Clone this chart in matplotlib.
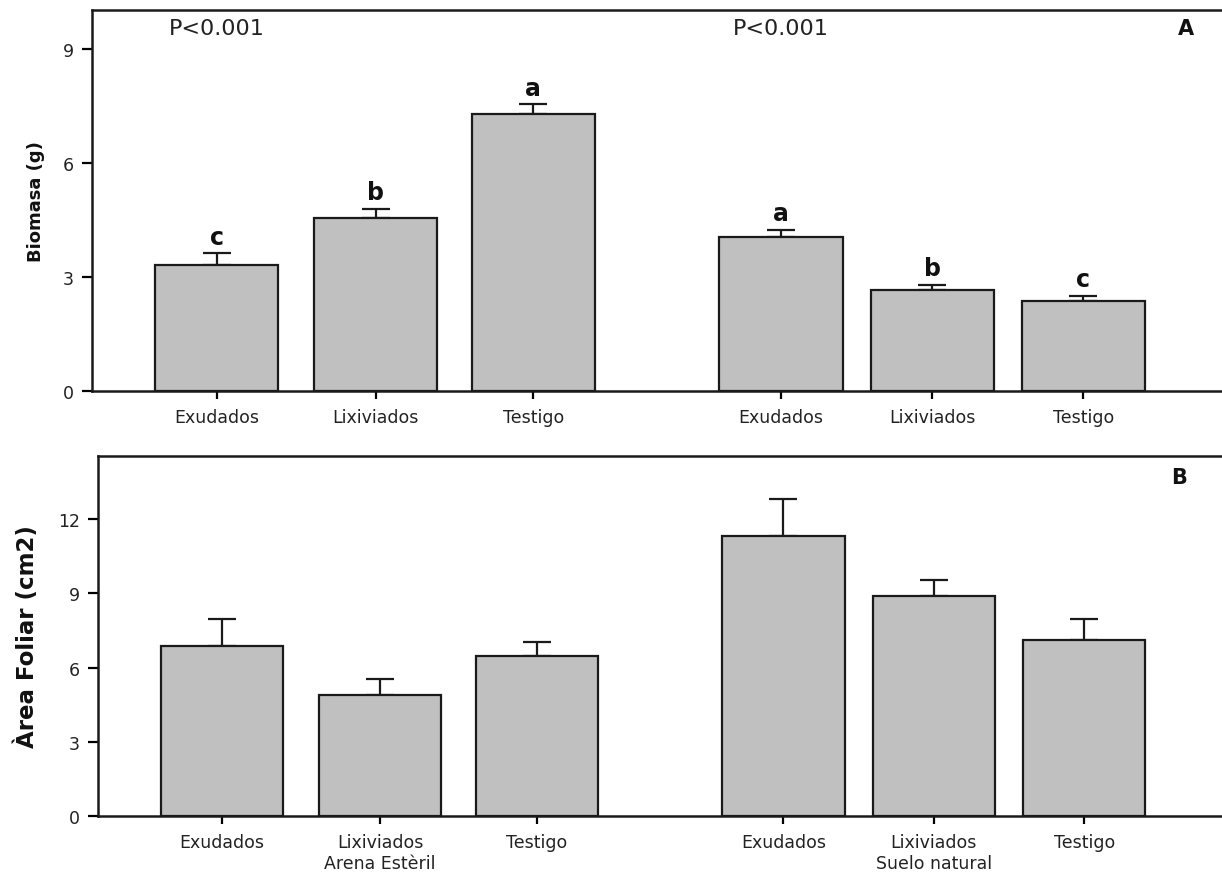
import matplotlib.pyplot as plt
import numpy as np

# Datos
pos = [0, 1.02, 2.03, 3.62, 4.59, 5.56]
labels_a = ["Exudados", "Lixiviados", "Testigo", "Exudados", "Lixiviados", "Testigo"]
labels_b = ["Exudados", "Lixiviados\nArena Estèril", "Testigo",
            "Exudados", "Lixiviados\nSuelo natural", "Testigo"]

biomasa = [3.32, 4.55, 7.29, 4.05, 2.66, 2.37]
biomasa_err = [0.31, 0.24, 0.26, 0.19, 0.13, 0.13]
letras = ["c", "b", "a", "a", "b", "c"]

area = [6.87, 4.89, 6.46, 11.31, 8.89, 7.11]
area_err = [1.09, 0.64, 0.57, 1.50, 0.65, 0.85]

plt.rcParams['font.family'] = 'DejaVu Sans'

fig = plt.figure(figsize=(12.22, 8.78), dpi=100)
ax1 = fig.add_axes([0.0753, 0.5535, 0.93, 0.434])
ax2 = fig.add_axes([0.0802, 0.0695, 0.925, 0.41])

gray = '#c0c0c0'
txt = '#222222'


def panel(ax, vals, errs, ylim, yticks, xlabels):
    ax.bar(pos, vals, width=0.79, color=gray, edgecolor='#1a1a1a', linewidth=1.6, zorder=2)
    ax.errorbar(pos, vals, yerr=[np.zeros(len(errs)), errs], fmt='none',
                ecolor='#1a1a1a', elinewidth=1.6, capsize=10, capthick=1.6, zorder=1)
    ax.set_xlim(-0.8, 6.49)
    ax.set_ylim(*ylim)
    ax.set_yticks(yticks)
    ax.set_xticks(pos)
    ax.set_xticklabels(xlabels, fontsize=12.5, color=txt, linespacing=1.25)
    ax.tick_params(axis='y', labelsize=12.5, labelcolor=txt, direction='out',
                   length=7, width=1.6, pad=6)
    ax.tick_params(axis='x', direction='out', length=6, width=1.6, pad=6)
    for s in ax.spines.values():
        s.set_linewidth(1.8)
        s.set_color('#1a1a1a')


panel(ax1, biomasa, biomasa_err, (0, 10.03), [0, 3, 6, 9], labels_a)
for x, v, e, l in zip(pos, biomasa, biomasa_err, letras):
    ax1.text(x, v + e + 0.12, l, ha='center', va='bottom', fontsize=17,
             fontweight='bold', color='#111111')
ax1.text(0, 9.55, "P<0.001", ha='center', va='center', fontsize=16, color=txt)
ax1.text(3.62, 9.55, "P<0.001", ha='center', va='center', fontsize=16, color=txt)
ax1.text(6.22, 9.55, "A", ha='center', va='center', fontsize=15, fontweight='bold', color='#111111')
ax1.set_ylabel("Biomasa (g)", fontsize=13, fontweight='bold', color='#111111')
ax1.yaxis.set_label_coords(-0.041, 0.5)

panel(ax2, area, area_err, (0, 14.55), [0, 3, 6, 9, 12], labels_b)
ax2.text(6.17, 13.7, "B", ha='center', va='center', fontsize=15, fontweight='bold', color='#111111')
ax2.set_ylabel("Àrea Foliar (cm2)", fontsize=16.5, fontweight='bold', color='#111111')
ax2.yaxis.set_label_coords(-0.052, 0.5)

fig.savefig("out.png", dpi=100)
